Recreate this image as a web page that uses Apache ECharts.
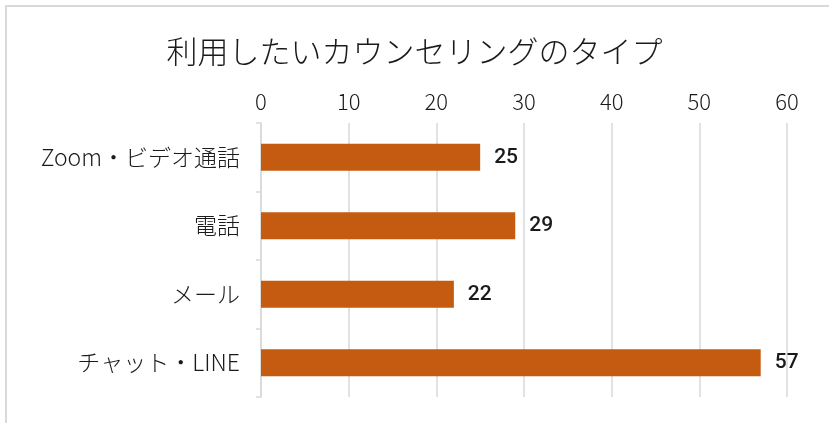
<!DOCTYPE html>
<html><head><meta charset="utf-8">
<script src="https://cdn.jsdelivr.net/npm/echarts@6/dist/echarts.min.js"></script>
<style>html,body{margin:0;padding:0;background:#fff}#c{width:829px;height:423px}</style>
</head><body><div id="c"></div>
<script>
const categories = ['Zoom・ビデオ通話', '電話', 'メール', 'チャット・LINE'];
const values = [25, 29, 22, 57];
const xTicks = [0, 10, 20, 30, 40, 50, 60];
const chart = echarts.init(document.getElementById('c'));
const jp = '"Noto Sans CJK JP", "Noto Sans", sans-serif';
chart.setOption({
  animation: false,
  graphic: [{type:'rect', shape:{x:6,y:6,width:840,height:440}, style:{fill:'none', stroke:'#d9d9d9', lineWidth:2}, silent:true}],
  title: {text:'利用したいカウンセリングのタイプ', left:'center', top:31, textStyle:{fontFamily:jp, fontWeight:300, fontSize:31, color:'#1a1a1a'}},
  grid: {left:261, right:42, top:123, bottom:26, containLabel:false},
  xAxis: {type:'value', position:'top', min:xTicks[0], max:xTicks[xTicks.length-1], interval:10,
    axisLine:{show:false}, axisTick:{show:false},
    axisLabel:{fontFamily:jp, fontWeight:300, fontSize:22, color:'#1a1a1a', margin:10},
    splitLine:{show:true, lineStyle:{color:'#d9d9d9', width:1.5}}},
  yAxis: {type:'category', inverse:true, data:categories,
    axisLine:{show:true, lineStyle:{color:'#d9d9d9', width:1.5}},
    axisTick:{show:true, length:5, lineStyle:{color:'#d9d9d9', width:1.5}},
    axisLabel:{fontFamily:jp, fontWeight:300, fontSize:23, color:'#1a1a1a', margin:21}},
  series: [{type:'bar', data:values, barWidth:27, itemStyle:{color:'#C55A11'},
    label:{show:true, position:'right', distance:14, fontFamily:'Roboto, sans-serif', fontWeight:500, fontSize:21, color:'#1a1a1a'}}]
});
</script></body></html>
